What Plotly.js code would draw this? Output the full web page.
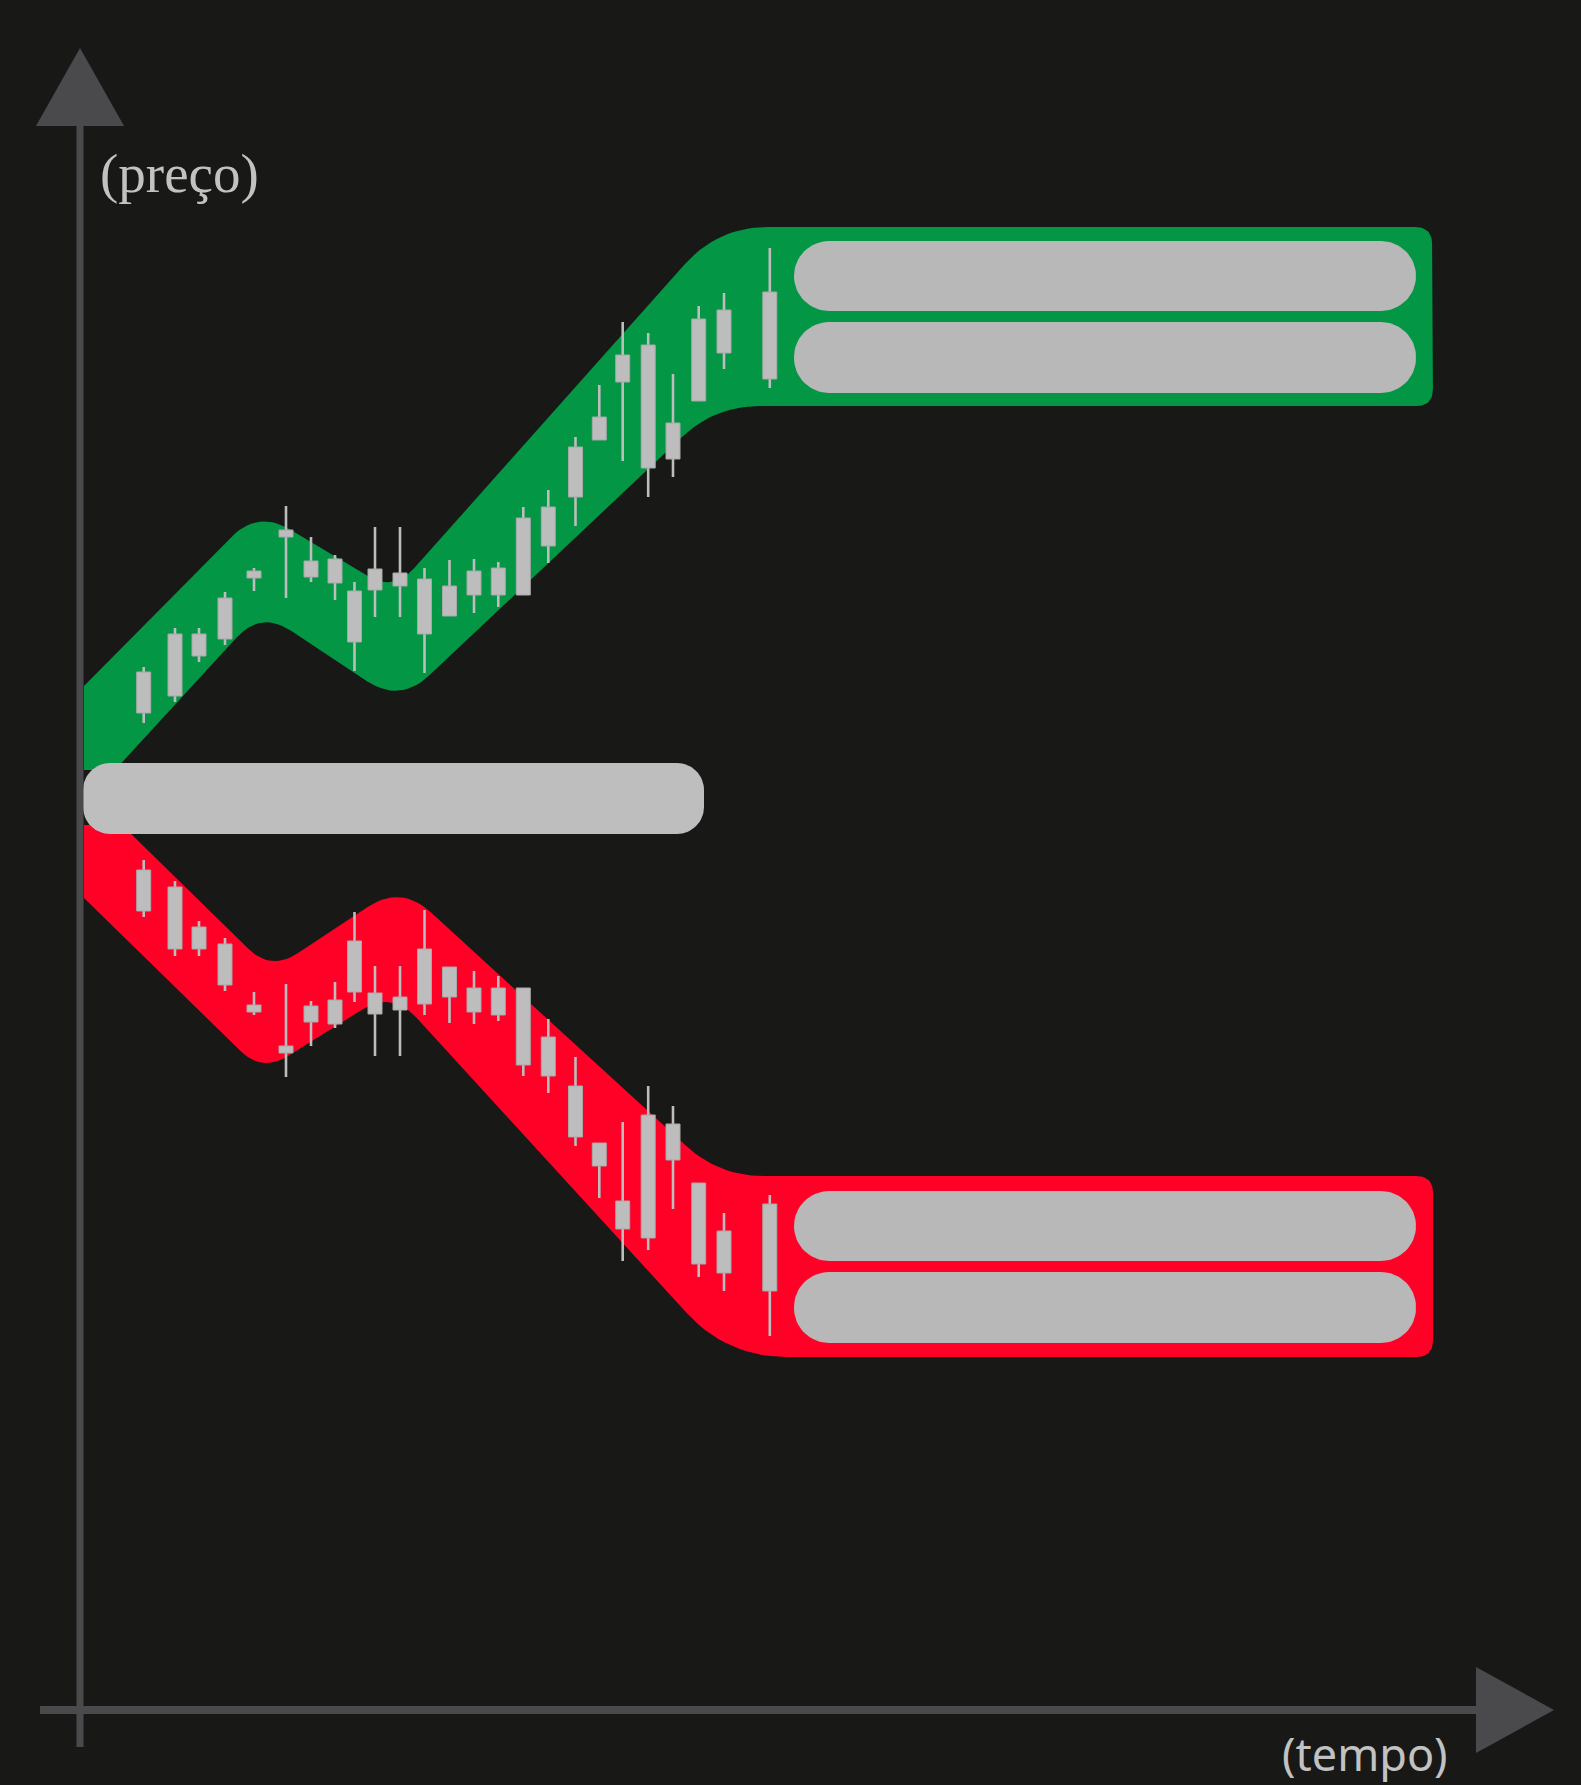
<!DOCTYPE html>
<html>
<head>
<meta charset="utf-8">
<script src="https://cdn.plot.ly/plotly-3.0.1.min.js"></script>
<style>html,body{margin:0;padding:0;background:#181917;}</style>
</head>
<body>
<div id="chart" style="width:1581px;height:1785px;"></div>
<script>
// ---- Data (time = horizontal position, price measured downward in page units) ----
const candleTime = [143.7,175,199,225,254,286,311,335,354.5,375,400,424.5,449.5,474,498.3,523.3,548.3,575.5,599.3,622.7,648.2,673,698.7,724,769.8];

const upBodyTop = [672,634,634,598,571,530,561,559,591,569,573,579,586,571,568,518,507,447,417,355,345,423,319,310,292];
const upBodyBot = [713,696,656,639,578,537,577,583,642,590,586,634,616,595,595,595,546,497,440,382,468,459,401,353,379];
const upWickTop = [667,628,628,592,568,506,537,555,582,527,527,568,560,559,562,507,490,437,385,322,333,374,306,293,248];
const upWickBot = [723,702,662,645,591,598,582,600,671,617,617,673,616,613,607,595,563,526,440,461,497,477,401,369,388];

const dnBodyTop = [870,887,927,944,1005,1046,1006,1000,941,993,997,949,967,988,988,988,1037,1086,1143,1201,1115,1124,1183,1231,1204];
const dnBodyBot = [911,949,949,985,1012,1053,1022,1024,992,1014,1010,1004,997,1012,1015,1065,1076,1137,1166,1229,1238,1160,1264,1273,1291];
const dnWickTop = [860,881,921,938,992,984,1001,982,912,966,966,910,967,971,976,988,1019,1057,1143,1122,1086,1106,1183,1213,1195];
const dnWickBot = [917,956,956,991,1015,1077,1046,1028,1002,1056,1056,1015,1023,1024,1021,1076,1093,1146,1198,1261,1250,1209,1277,1291,1336];

// band outlines (vertex time, vertex price, corner rounding)
const greenBandX = [84, 258, 393, 718, 1432, 1433, 715, 400, 261, 115, 84];
const greenBandY = [686, 510, 592, 227, 227, 406, 406, 703, 611, 770, 770];
const greenBandR = [0, 38, 32, 50, 17, 17, 45, 40, 36, 0, 0];

const redBandX = [84, 122, 271, 401, 719, 1433, 1433, 727, 392, 262, 84];
const redBandY = [825, 825, 971, 885, 1176, 1176, 1357, 1357, 991, 1072, 898];
const redBandR = [0, 0, 32, 40, 45, 17, 17, 60, 36, 30, 0];

// label boxes [x0, y0, x1, y1, radius]
const midBox = [83, 763, 704, 834, 27];
const greenPills = [[794, 241, 1416, 311, 35], [794, 322, 1416, 393, 35]];
const redPills = [[794, 1191, 1416, 1261, 35], [794, 1272, 1416, 1343, 35]];

// axes
const yAxisLineX = [80, 80], yAxisLineY = [126, 1747];
const xAxisLineX = [40, 1476], xAxisLineY = [1710, 1710];
const yArrowX = [36, 124, 80], yArrowY = [126, 126, 48];
const xArrowX = [1476, 1476, 1554], xArrowY = [1667, 1753, 1710];

const axisLabels = ["(preço)", "(tempo)"];

// ---- helpers ----
function roundPoly(vx, vy, vr, n) {
  n = n || 14;
  const X = [], Y = [], N = vx.length;
  for (let i = 0; i < N; i++) {
    const px = vx[(i - 1 + N) % N], py = vy[(i - 1 + N) % N];
    const cx = vx[i], cy = vy[i];
    const qx = vx[(i + 1) % N], qy = vy[(i + 1) % N];
    const r = vr[i];
    if (!r) { X.push(cx); Y.push(cy); continue; }
    const d1 = Math.hypot(px - cx, py - cy), d2 = Math.hypot(qx - cx, qy - cy);
    const t1 = Math.min(r, d1 / 2), t2 = Math.min(r, d2 / 2);
    const ax = cx + (px - cx) * t1 / d1, ay = cy + (py - cy) * t1 / d1;
    const bx = cx + (qx - cx) * t2 / d2, by = cy + (qy - cy) * t2 / d2;
    for (let k = 0; k <= n; k++) {
      const s = k / n;
      X.push((1 - s) * (1 - s) * ax + 2 * s * (1 - s) * cx + s * s * bx);
      Y.push((1 - s) * (1 - s) * ay + 2 * s * (1 - s) * cy + s * s * by);
    }
  }
  X.push(X[0]); Y.push(Y[0]);
  return [X, Y];
}
function roundRect(b) {
  const [x0, y0, x1, y1, r] = b;
  const X = [], Y = [];
  const corners = [[x0 + r, y0 + r, 180], [x1 - r, y0 + r, 270], [x1 - r, y1 - r, 0], [x0 + r, y1 - r, 90]];
  corners.forEach(([cx, cy, a0]) => {
    for (let k = 0; k <= 16; k++) {
      const a = (a0 + 90 * k / 16) * Math.PI / 180;
      X.push(cx + r * Math.cos(a)); Y.push(cy + r * Math.sin(a));
    }
  });
  X.push(X[0]); Y.push(Y[0]);
  return [X, Y];
}
function filled(xy, color) {
  return {type: 'scatter', mode: 'lines', x: xy[0], y: xy[1], fill: 'toself', fillcolor: color,
          line: {width: 0, color: color}, hoverinfo: 'skip'};
}
function wickTrace(t, top, bot) {
  const X = [], Y = [];
  t.forEach((x, i) => { X.push(x, x, null); Y.push(top[i], bot[i], null); });
  return {type: 'scatter', mode: 'lines', x: X, y: Y, line: {color: '#bdbdbd', width: 2.6}, hoverinfo: 'skip'};
}
function bodyTrace(t, top, bot) {
  const X = [], Y = [], hw = 7;
  t.forEach((x, i) => { X.push(x - hw, x + hw, x + hw, x - hw, x - hw, null); Y.push(top[i], top[i], bot[i], bot[i], top[i], null); });
  return {type: 'scatter', mode: 'lines', x: X, y: Y, fill: 'toself', fillcolor: '#bdbdbd',
          line: {color: '#a8a8a8', width: 1}, connectgaps: false, hoverinfo: 'skip'};
}

const GREEN = '#029645', RED = '#ff0026', BOX = '#bebebe', PILL = '#b8b8b8', AXIS = '#4a4a4d';

const traces = [
  filled(roundPoly(greenBandX, greenBandY, greenBandR), GREEN),
  filled(roundPoly(redBandX, redBandY, redBandR), RED),
  filled(roundRect(midBox), BOX),
  ...greenPills.map(p => filled(roundRect(p), PILL)),
  ...redPills.map(p => filled(roundRect(p), PILL)),
  wickTrace(candleTime, upWickTop, upWickBot),
  bodyTrace(candleTime, upBodyTop, upBodyBot),
  wickTrace(candleTime, dnWickTop, dnWickBot),
  bodyTrace(candleTime, dnBodyTop, dnBodyBot),
  {type: 'scatter', mode: 'lines', x: yAxisLineX, y: yAxisLineY, line: {color: AXIS, width: 7}, hoverinfo: 'skip'},
  {type: 'scatter', mode: 'lines', x: xAxisLineX, y: xAxisLineY, line: {color: AXIS, width: 8}, hoverinfo: 'skip'},
  filled([yArrowX.concat(yArrowX[0]), yArrowY.concat(yArrowY[0])], AXIS),
  filled([xArrowX.concat(xArrowX[0]), xArrowY.concat(xArrowY[0])], AXIS)
];

const layout = {
  width: 1581, height: 1785,
  margin: {l: 0, r: 0, t: 0, b: 0, pad: 0},
  paper_bgcolor: '#181917', plot_bgcolor: '#181917',
  showlegend: false,
  xaxis: {range: [0, 1581], visible: false, fixedrange: true},
  yaxis: {range: [1785, 0], visible: false, fixedrange: true},
  annotations: [
    {text: axisLabels[0], x: 179, y: 173, xref: 'x', yref: 'y', showarrow: false,
     xanchor: 'center', yanchor: 'middle', font: {family: 'Liberation Serif, serif', size: 55, color: '#c2c2c2'}},
    {text: axisLabels[1], x: 1365, y: 1753, xref: 'x', yref: 'y', showarrow: false,
     xanchor: 'center', yanchor: 'middle', font: {family: 'Noto Sans, Open Sans, sans-serif', size: 45, color: '#c2c2c2'}}
  ]
};

Plotly.newPlot('chart', traces, layout, {displayModeBar: false, staticPlot: true});
</script>
</body>
</html>
